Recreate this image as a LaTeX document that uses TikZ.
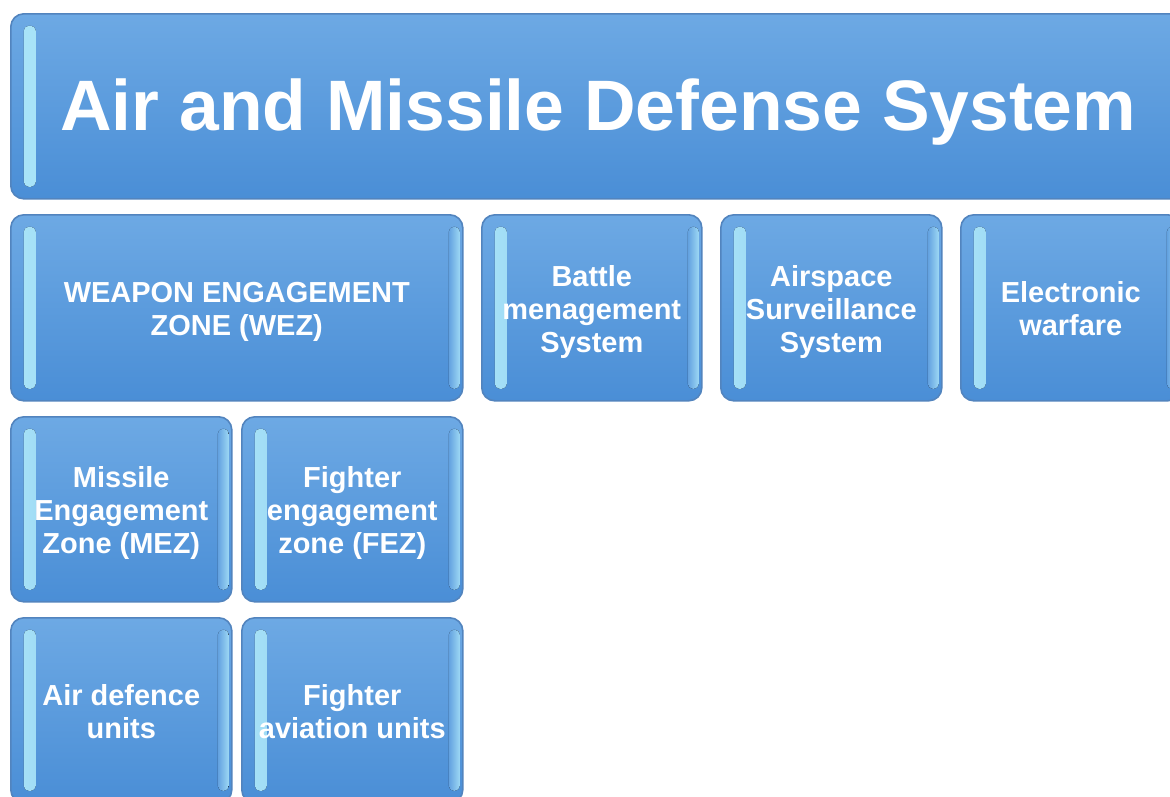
\documentclass[tikz,border=0pt]{standalone}
\usepackage{fontspec}
\setmainfont{Liberation Sans}
\usetikzlibrary{positioning}

\newdimen\pxu \pxu=0.025cm
\definecolor{boxtop}{HTML}{6DA9E4}
\definecolor{boxbot}{HTML}{4A8ED6}
\definecolor{boxline}{HTML}{5284BE}
\definecolor{glint}{HTML}{A9E4F8}
% text set a little lower in its box
\newcommand{\lowtext}[2][5]{\raisebox{-#1\pxu}[\height][\depth]{\begin{tabular}{@{}c@{}}#2\end{tabular}}}

\begin{document}
\begin{tikzpicture}
  [x=\pxu, y=-\pxu,
     blok/.style={shape=rectangle,
                  rounded corners=13\pxu,
                  draw=boxline,
                  line width=1.6\pxu,
                  top color=boxtop,
                  bottom color=boxbot,
                  inner sep=0pt,
                  anchor=north west,
                  text=white,
                  font=\fontsize{20.6}{23.4}\selectfont\bfseries,
                  path picture={
                    \fill[left color=glint, right color=boxtop!70!boxbot, rounded corners=5\pxu]
                      ([xshift=13\pxu,yshift=-12\pxu]path picture bounding box.north west)
                      rectangle ([xshift=25\pxu,yshift=12\pxu]path picture bounding box.south west);
                    \fill[left color=boxtop!70!boxbot, right color=glint!80!boxtop, rounded corners=5\pxu]
                      ([xshift=-14\pxu,yshift=-12\pxu]path picture bounding box.north east)
                      rectangle ([xshift=-3\pxu,yshift=12\pxu]path picture bounding box.south east);
                  }},
     wide/.style={minimum width=#1\pxu},
     tall/.style={minimum height=#1\pxu}
  ]
    \useasboundingbox (0,0) rectangle (1170,796);
    \clip (0,0) rectangle (1170,796);

    % top
    \node[blok,wide=1175,tall=185,font=\fontsize{50.8}{60}\selectfont\bfseries] (amds) at (10,13)
        {\lowtext[7]{Air and Missile Defense System}};

    % second row
    \node[blok,wide=452,tall=186] (wez) at (10,214) {\lowtext{WEAPON ENGAGEMENT\\ZONE (WEZ)}};
    \node[blok,wide=220,tall=186] (bms) at (481,214) {\lowtext{Battle\\menagement\\System}};
    \node[blok,wide=221,tall=186] (ass) at (720,214) {\lowtext{Airspace\\Surveillance\\System}};
    \node[blok,wide=220,tall=186] (ew) at (960,214) {\lowtext{Electronic\\warfare}};

    % third row
    \node[blok,wide=221,tall=185] (mez) at (10,416) {\lowtext{Missile\\Engagement\\Zone (MEZ)}};
    \node[blok,wide=221,tall=185] (fez) at (241,416) {\lowtext{Fighter\\engagement\\zone (FEZ)}};

    % fourth row
    \node[blok,wide=221,tall=185] (adu) at (10,617) {\lowtext{Air defence\\units}};
    \node[blok,wide=221,tall=185] (fau) at (241,617) {\lowtext{Fighter\\aviation units}};

\end{tikzpicture}
\end{document}
